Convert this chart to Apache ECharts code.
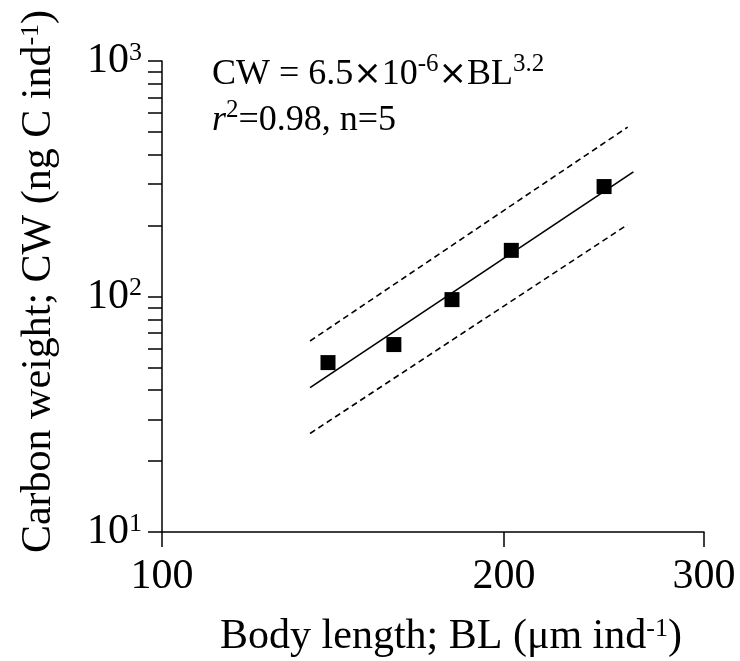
<!DOCTYPE html>
<html>
<head>
<meta charset="utf-8">
<script src="https://cdn.jsdelivr.net/npm/echarts@6/dist/echarts.min.js"></script>
<style>
  html, body { margin: 0; padding: 0; background: #fff; }
  #chart { width: 740px; height: 661px; }
</style>
</head>
<body>
<div id="chart"></div>
<script>
// measured points: body length (um) vs carbon weight (ng C)
const bodyLength = [140, 160, 180, 203, 245];
const carbonWeight = [52.4, 62.5, 97, 157, 293];

// regression line and its dashed band, read at the ends
const fitX = [135, 260];
const fitY = [41, 338];
const upperY = [64.7, 524];
const lowerY = [26.2, 202];
const bandX = [135, 257];

// ticks
const xTicks = [100, 200, 300];
const yLabelTicks = [10, 100, 1000];
const yTicks = [10, 20, 30, 40, 50, 60, 70, 80, 90, 100, 200, 300, 400, 500, 600, 700, 800, 900, 1000];

const font = '"Liberation Serif", "Times New Roman", serif';
const pair = (xs, ys) => xs.map((x, i) => [x, ys[i]]);

const chart = echarts.init(document.getElementById('chart'));
chart.setOption({
  backgroundColor: '#fff',
  animation: false,
  textStyle: {fontFamily: font, color: '#000'},
  grid: {left: 162, right: 36, top: 61, bottom: 129, containLabel: false, outerBoundsMode: 'none'},
  xAxis: {
    type: 'log',
    min: 100,
    max: 300,
    name: 'Body length; BL (μm ind{s|-1})',
    nameLocation: 'middle',
    nameGap: 84,
    nameTextStyle: {
      fontFamily: font, fontSize: 42, color: '#000', padding: [0, 0, 0, 36],
      rich: {s: {fontFamily: font, fontSize: 26, verticalAlign: 'top', color: '#000'}}
    },
    splitLine: {show: false},
    axisLine: {lineStyle: {color: '#000', width: 1.5}},
    axisTick: {customValues: xTicks, length: 15, lineStyle: {color: '#000', width: 1.5}},
    axisLabel: {customValues: xTicks, fontFamily: font, fontSize: 42, color: '#000', margin: 24,
      formatter: v => String(Math.round(v))}
  },
  yAxis: {
    type: 'log',
    min: 10,
    max: 1000,
    name: 'Carbon weight; CW (ng C ind{s|-1})',
    nameLocation: 'middle',
    nameGap: 102,
    nameTextStyle: {
      fontFamily: font, fontSize: 42, color: '#000', padding: [0, 0, 0, 30],
      rich: {s: {fontFamily: font, fontSize: 26, verticalAlign: 'top', color: '#000'}}
    },
    splitLine: {show: false},
    minorTick: {show: false},
    axisLine: {lineStyle: {color: '#000', width: 1.5}},
    axisTick: {customValues: yTicks, length: 14, lineStyle: {color: '#000', width: 1.5}},
    axisLabel: {
      customValues: yLabelTicks,
      margin: 20,
      formatter: v => '{b|10}{s|' + Math.round(Math.log10(v)) + '}',
      rich: {
        b: {fontFamily: font, fontSize: 42, color: '#000'},
        s: {fontFamily: font, fontSize: 26, color: '#000', verticalAlign: 'top'}
      }
    }
  },
  graphic: [{
    type: 'text',
    left: 212,
    top: 52,
    style: {
      text: 'CW = 6.5{x|×}10{s|-6}{x|×}BL{s|3.2}\n{i|r}{s|2}=0.98, n=5',
      fontFamily: font,
      fontSize: 36,
      lineHeight: 46,
      fill: '#000',
      rich: {
        s: {fontFamily: font, fontSize: 25, verticalAlign: 'top', fill: '#000', lineHeight: 30},
        x: {fontFamily: '"DejaVu Sans", sans-serif', fontSize: 34, fill: '#000'},
        i: {fontFamily: font, fontSize: 36, fontStyle: 'italic', fill: '#000'}
      }
    }
  }],
  series: [
    {
      type: 'line',
      data: pair(bandX, upperY),
      symbol: 'none',
      lineStyle: {color: '#000', width: 1.6, type: [6, 4]}
    },
    {
      type: 'line',
      data: pair(bandX, lowerY),
      symbol: 'none',
      lineStyle: {color: '#000', width: 1.6, type: [6, 4]}
    },
    {
      type: 'line',
      data: pair(fitX, fitY),
      symbol: 'none',
      lineStyle: {color: '#000', width: 1.6}
    },
    {
      type: 'scatter',
      data: pair(bodyLength, carbonWeight),
      symbol: 'rect',
      symbolSize: 15,
      itemStyle: {color: '#000', opacity: 1},
      z: 5
    }
  ]
});
</script>
</body>
</html>
